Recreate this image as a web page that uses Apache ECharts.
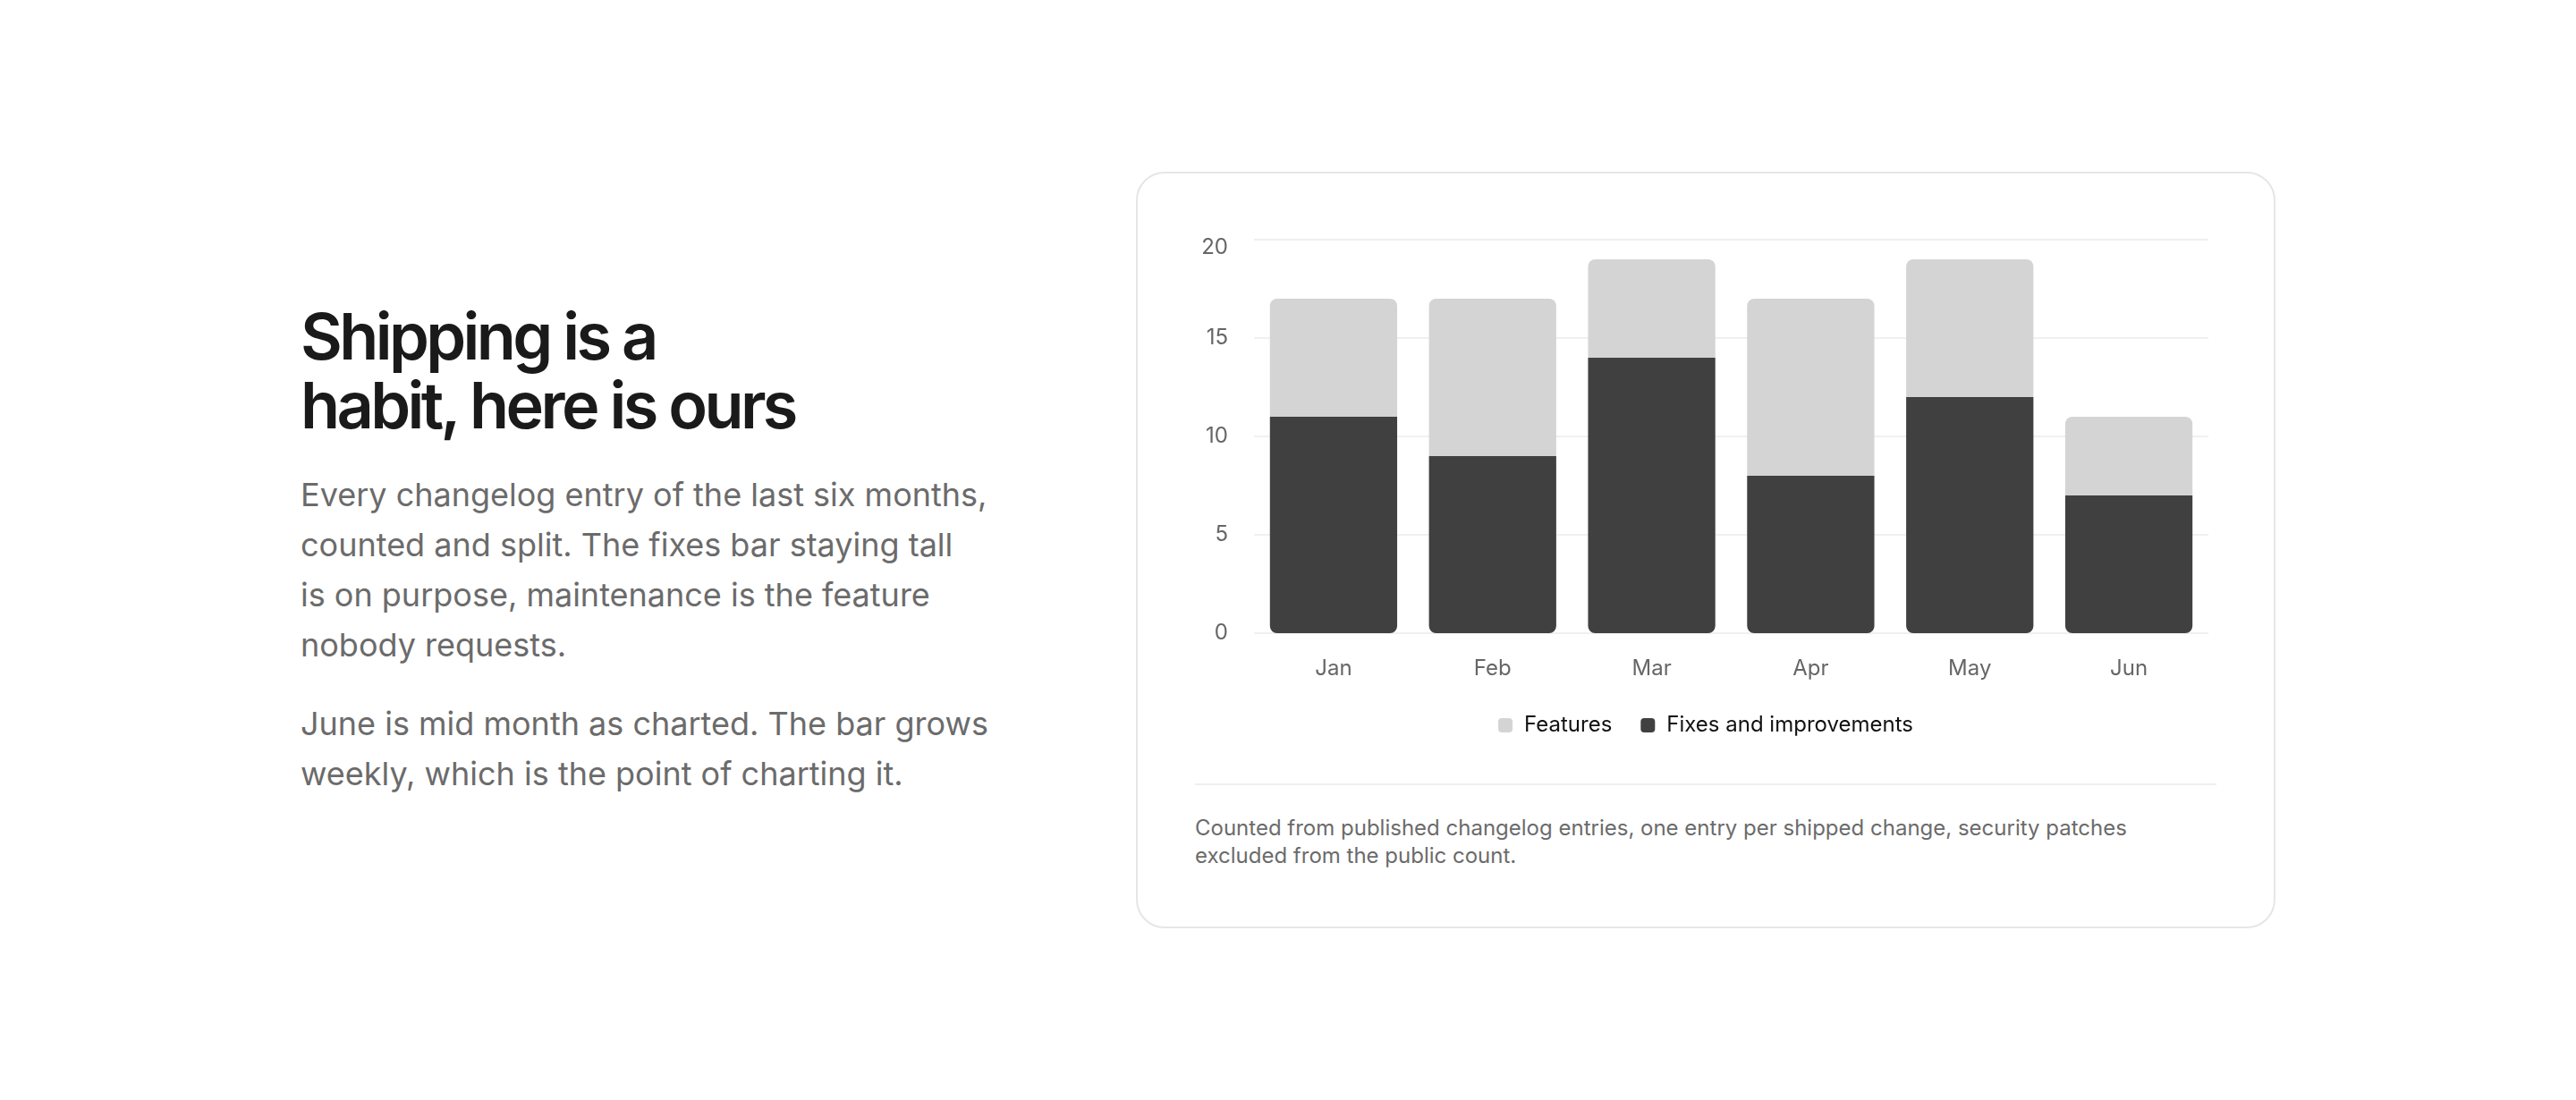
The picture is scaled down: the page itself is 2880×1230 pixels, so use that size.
<!DOCTYPE html>
<html>
<head>
<meta charset="utf-8">
<script src="https://cdn.jsdelivr.net/npm/echarts@6/dist/echarts.min.js"></script>
<style>
  html, body { margin: 0; padding: 0; background: #ffffff; }
  body { width: 2880px; height: 1230px; position: relative; overflow: hidden; font-family: Inter, "Noto Sans", sans-serif; }
  #heading { position: absolute; left: 336px; top: 337px; margin: 0; font-size: 72px; line-height: 77px; font-weight: 600; letter-spacing: -0.05em; color: #1a1a1a; white-space: nowrap; }
  .para { position: absolute; left: 336px; margin: 0; font-size: 36px; line-height: 56px; color: #6b6b6b; white-space: nowrap; font-weight: 400; }
  #p1 { top: 525px; }
  #p2 { top: 781px; }
  #card { position: absolute; left: 1270px; top: 192px; width: 1270px; height: 842px; border: 2px solid #e6e6e6; border-radius: 32px; box-sizing: content-box; background: #fff; }
  #chart { position: absolute; left: 1336px; top: 240px; width: 1142px; height: 600px; }
  #divider { position: absolute; left: 1336px; top: 876px; width: 1142px; height: 2px; background: #efefef; }
  #note { position: absolute; left: 1336px; top: 910px; margin: 0; font-size: 24px; line-height: 31px; color: #6b6b6b; white-space: nowrap; }
</style>
</head>
<body>
<h1 id="heading">Shipping is a<br>habit, here is ours</h1>
<p class="para" id="p1">Every changelog entry of the last six months,<br>counted and split. The fixes bar staying tall<br>is on purpose, maintenance is the feature<br>nobody requests.</p>
<p class="para" id="p2">June is mid month as charted. The bar grows<br>weekly, which is the point of charting it.</p>
<div id="card"></div>
<div id="chart"></div>
<div id="divider"></div>
<p id="note">Counted from published changelog entries, one entry per shipped change, security patches<br>excluded from the public count.</p>
<script>
const months = ['Jan', 'Feb', 'Mar', 'Apr', 'May', 'Jun'];
const fixes = [11, 9, 14, 8, 12, 7];
const features = [6, 8, 5, 9, 7, 4];
const yTicks = [0, 5, 10, 15, 20];

const yMax = yTicks[yTicks.length - 1];
const chart = echarts.init(document.getElementById('chart'), null, { renderer: 'canvas' });
chart.setOption({
  animation: false,
  textStyle: { fontFamily: 'Inter' },
  grid: { left: 66, right: 9, top: 28, bottom: 132, containLabel: false },
  legend: {
    data: ['Features', 'Fixes and improvements'],
    top: 554,
    left: 'center',
    icon: 'roundRect',
    itemWidth: 16,
    itemHeight: 16,
    itemGap: 32,
    textStyle: { fontSize: 24, color: '#111111', fontFamily: 'Inter', padding: [0, 0, 0, 8] }
  },
  xAxis: {
    type: 'category',
    data: months,
    axisLine: { show: false },
    axisTick: { show: false },
    axisLabel: { fontSize: 24, color: '#666666', margin: 28, fontFamily: 'Inter' }
  },
  yAxis: {
    type: 'value',
    min: yTicks[0],
    max: yMax,
    interval: yTicks[1] - yTicks[0],
    axisLine: { show: false },
    axisTick: { show: false },
    axisLabel: {
      fontSize: 24, color: '#666666', margin: 29, fontFamily: 'Inter',
      formatter: function (v) { return v === yMax ? '{mx|' + v + '}' : String(v); },
      rich: { mx: { fontSize: 24, color: '#666666', fontFamily: 'Inter', padding: [18, 0, 0, 0] } }
    },
    splitLine: { lineStyle: { color: '#f0f0f0', width: 2 } }
  },
  series: [
    {
      name: 'Fixes and improvements',
      type: 'bar',
      stack: 'total',
      data: fixes,
      barCategoryGap: '20%',
      itemStyle: { color: '#404040', borderRadius: [0, 0, 8, 8] }
    },
    {
      name: 'Features',
      type: 'bar',
      stack: 'total',
      data: features,
      barCategoryGap: '20%',
      itemStyle: { color: '#d4d4d4', borderRadius: [8, 8, 0, 0] }
    }
  ]
});
</script>
</body>
</html>
